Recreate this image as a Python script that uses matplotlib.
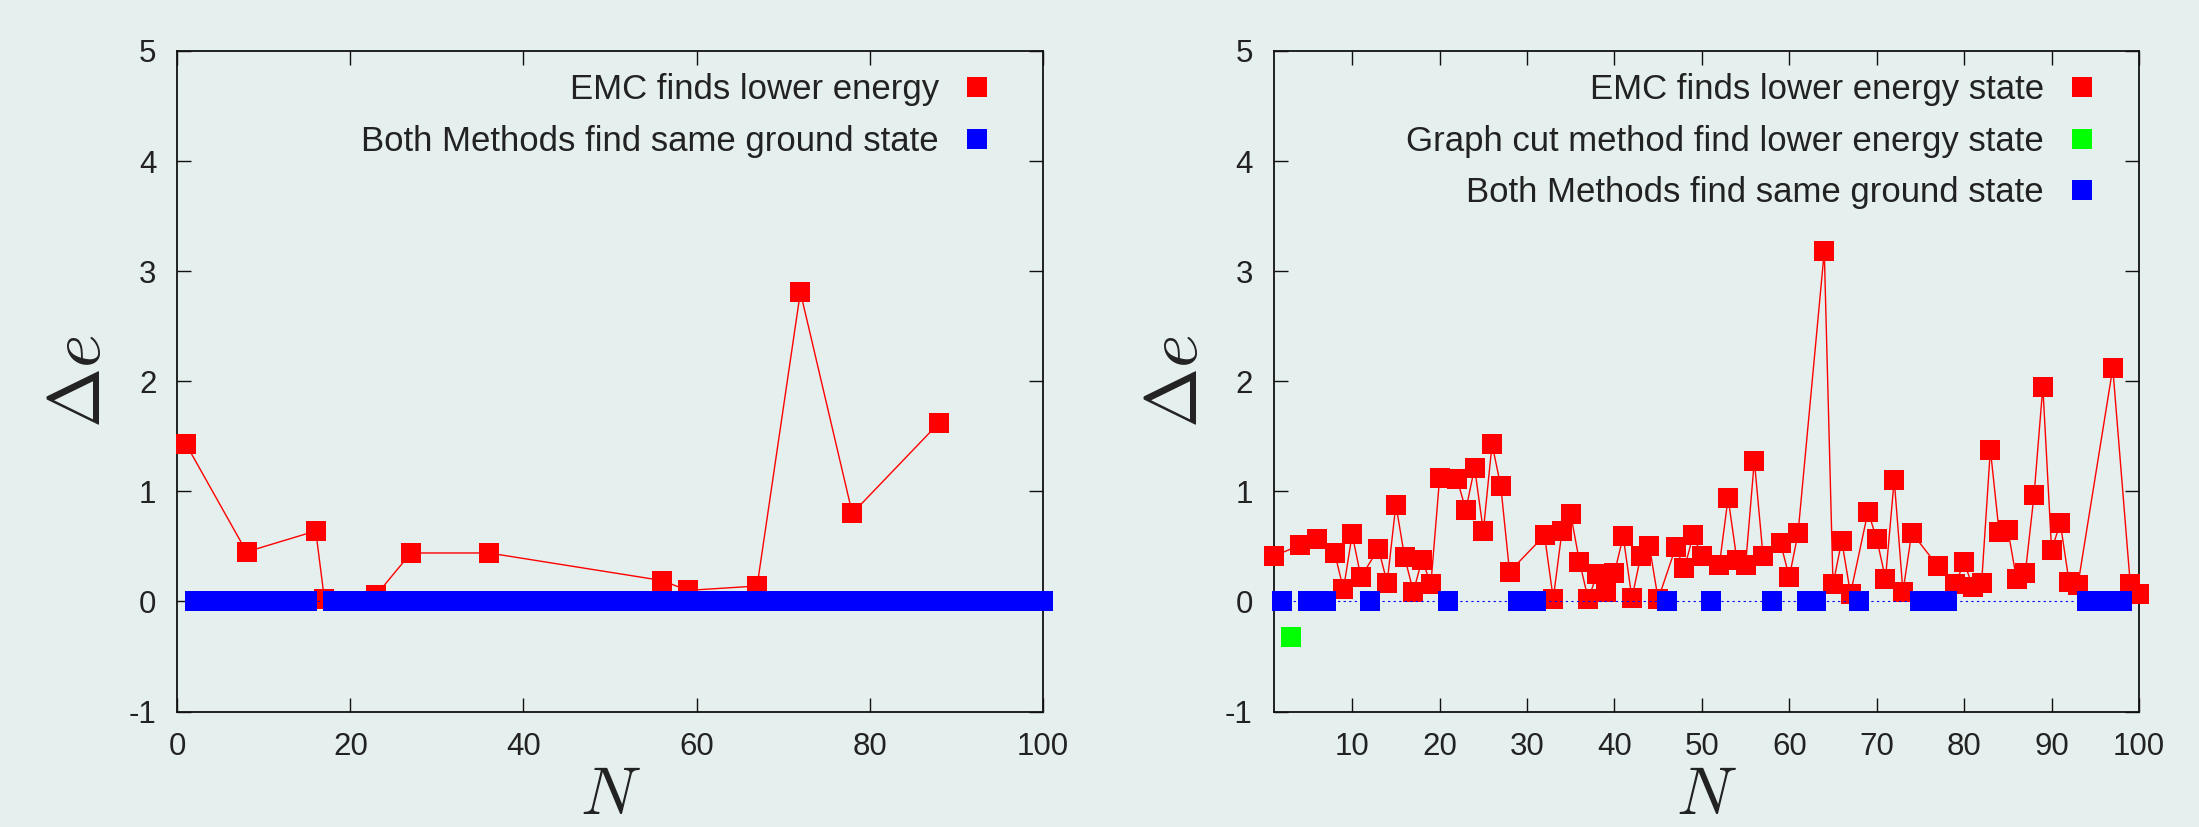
import matplotlib
matplotlib.use("Agg")
import matplotlib.pyplot as plt
from matplotlib import font_manager
from matplotlib.lines import Line2D

# ---------------- data ----------------
left_red_x = [1, 8, 16, 17, 23, 27, 36, 56, 59, 67, 72, 78, 88]
left_red_y = [1.43, 0.45, 0.64, 0.02, 0.06, 0.44, 0.44, 0.19, 0.10, 0.14, 2.81, 0.80, 1.62]
left_blue_x = [2, 3, 4, 5, 6, 7, 9, 10, 11, 12, 13, 14, 15, 18, 19, 20, 21, 22, 24, 25, 26,
               28, 29, 30, 31, 32, 33, 34, 35, 37, 38, 39, 40, 41, 42, 43, 44, 45, 46, 47,
               48, 49, 50, 51, 52, 53, 54, 55, 57, 58, 60, 61, 62, 63, 64, 65, 66, 68, 69,
               70, 71, 73, 74, 75, 76, 77, 79, 80, 81, 82, 83, 84, 85, 86, 87, 89, 90, 91,
               92, 93, 94, 95, 96, 97, 98, 99, 100]
left_blue_y = [0.0] * len(left_blue_x)

right_red_x = [1, 4, 6, 8, 9, 10, 11, 13, 14, 15, 16, 17, 18, 19, 20, 22, 23, 24, 25, 26,
               27, 28, 32, 33, 34, 35, 36, 37, 38, 39, 40, 41, 42, 43, 44, 45, 47, 48, 49,
               50, 52, 53, 54, 55, 56, 57, 59, 60, 61, 64, 65, 66, 67, 69, 70, 71, 72, 73,
               74, 77, 79, 80, 81, 82, 83, 84, 85, 86, 87, 88, 89, 90, 91, 92, 93, 97, 99, 100]
right_red_y = [0.41, 0.51, 0.57, 0.44, 0.11, 0.61, 0.22, 0.48, 0.17, 0.88, 0.40, 0.09, 0.38,
               0.155, 1.12, 1.11, 0.83, 1.215, 0.64, 1.43, 1.045, 0.27, 0.60, 0.025, 0.64,
               0.79, 0.36, 0.02, 0.245, 0.09, 0.26, 0.59, 0.03, 0.41, 0.50, 0.02, 0.49, 0.30,
               0.60, 0.41, 0.33, 0.94, 0.38, 0.33, 1.28, 0.41, 0.53, 0.22, 0.62, 3.18, 0.155,
               0.55, 0.07, 0.815, 0.57, 0.206, 1.105, 0.088, 0.624, 0.32, 0.16, 0.355, 0.13,
               0.17, 1.38, 0.63, 0.65, 0.20, 0.26, 0.97, 1.95, 0.47, 0.71, 0.18, 0.145, 2.12,
               0.16, 0.07]
right_green_x = [3]
right_green_y = [-0.32]
right_blue_x = [2, 5, 7, 12, 21, 29, 30, 31, 46, 51, 58, 62, 63, 68, 75, 76, 78, 94, 95, 96, 98]
right_blue_y = [0.0] * len(right_blue_x)

left_labels = ["EMC finds lower energy", "Both Methods find same ground state"]
right_labels = ["EMC finds lower energy state", "Graph cut method find lower energy state",
                "Both Methods find same ground state"]
yticks = [-1, 0, 1, 2, 3, 4, 5]
left_xticks = [0, 20, 40, 60, 80, 100]
right_xticks = [10, 20, 30, 40, 50, 60, 70, 80, 90, 100]

# ---------------- style ----------------
BG = "#e5efed"
TXT = "#222222"
plt.rcParams["mathtext.fontset"] = "cm"
avail = {f.name for f in font_manager.fontManager.ttflist}
FONT = "Liberation Sans" if "Liberation Sans" in avail else "DejaVu Sans"

W, H = 2199, 827
fig = plt.figure(figsize=(W / 100, H / 100), dpi=100, facecolor=BG)

def px_axes(x0, x1, y0, y1):
    return fig.add_axes([x0 / W, 1 - y1 / H, (x1 - x0) / W, (y1 - y0) / H])

ax1 = px_axes(177.3, 1042.7, 51, 711.5)
ax2 = px_axes(1273.5, 2139, 51, 711.5)

MS = 13.7
FS_TICK = 22.5
FS_LEG = 25

def style_axes(ax, xlim, xticks):
    ax.set_facecolor(BG)
    ax.set_xlim(*xlim)
    ax.set_ylim(-1, 5)
    ax.set_xticks(xticks)
    ax.set_yticks(yticks)
    ax.set_yticklabels([str(v) for v in yticks])
    ax.set_xticklabels([str(v) for v in xticks])
    for s in ax.spines.values():
        s.set_linewidth(1.3)
        s.set_color("#111111")
    ax.tick_params(direction="in", length=10, width=1.0, top=True, right=True,
                   colors="#111111", labelcolor=TXT, labelsize=FS_TICK)
    ax.tick_params(axis="x", pad=15)
    ax.tick_params(axis="y", pad=15)
    for lab in ax.get_xticklabels() + ax.get_yticklabels():
        lab.set_fontfamily(FONT)

# ---- left panel ----
ax1.plot(left_red_x, left_red_y, color="#ff0000", lw=1.0, marker="s", ms=MS, mew=0,
         label=left_labels[0], zorder=3, clip_on=False)
ax1.plot(left_blue_x, left_blue_y, color="#0000ff", lw=0.8, ls=(0, (2, 3)), marker="s",
         ms=MS, mew=0, label=left_labels[1], zorder=5, clip_on=False)
style_axes(ax1, (0, 100), left_xticks)

# ---- right panel ----
ax2.plot(right_red_x, right_red_y, color="#ff0000", lw=1.0, marker="s", ms=MS, mew=0,
         label=right_labels[0], zorder=3, clip_on=False)
ax2.plot(right_green_x, right_green_y, color="#00ff00", lw=0, marker="s", ms=MS, mew=0,
         label=right_labels[1], zorder=4, clip_on=False)
ax2.plot(right_blue_x, right_blue_y, color="#0000ff", lw=0.8, ls=(0, (2, 3)), marker="s",
         ms=MS, mew=0, label=right_labels[2], zorder=5, clip_on=False)
style_axes(ax2, (1, 100), right_xticks)

for ax, anchor_x, ylab_x in ((ax1, 0.9445, -0.112), (ax2, 0.9545, -0.111)):
    handles, labels = ax.get_legend_handles_labels()
    hs = [Line2D([], [], color=h.get_color(), lw=0, marker="s", ms=MS, mew=0) for h in handles]
    leg = ax.legend(hs, labels, loc="upper right", bbox_to_anchor=(anchor_x, 0.9667),
                    markerfirst=False, frameon=False,
                    prop={"family": FONT, "size": FS_LEG}, handlelength=1.0,
                    handletextpad=0.6, borderpad=0, borderaxespad=0, labelspacing=0.54)
    for t in leg.get_texts():
        t.set_color(TXT)
    ax.text(0.5, -0.126, r"$N$", transform=ax.transAxes, ha="center", va="center",
            fontsize=48, color=TXT)
    ax.text(ylab_x, 0.5, r"$\Delta e$", transform=ax.transAxes, ha="center", va="center",
            fontsize=52, color=TXT, rotation=90)

fig.savefig("out.png", dpi=100, facecolor=BG)
